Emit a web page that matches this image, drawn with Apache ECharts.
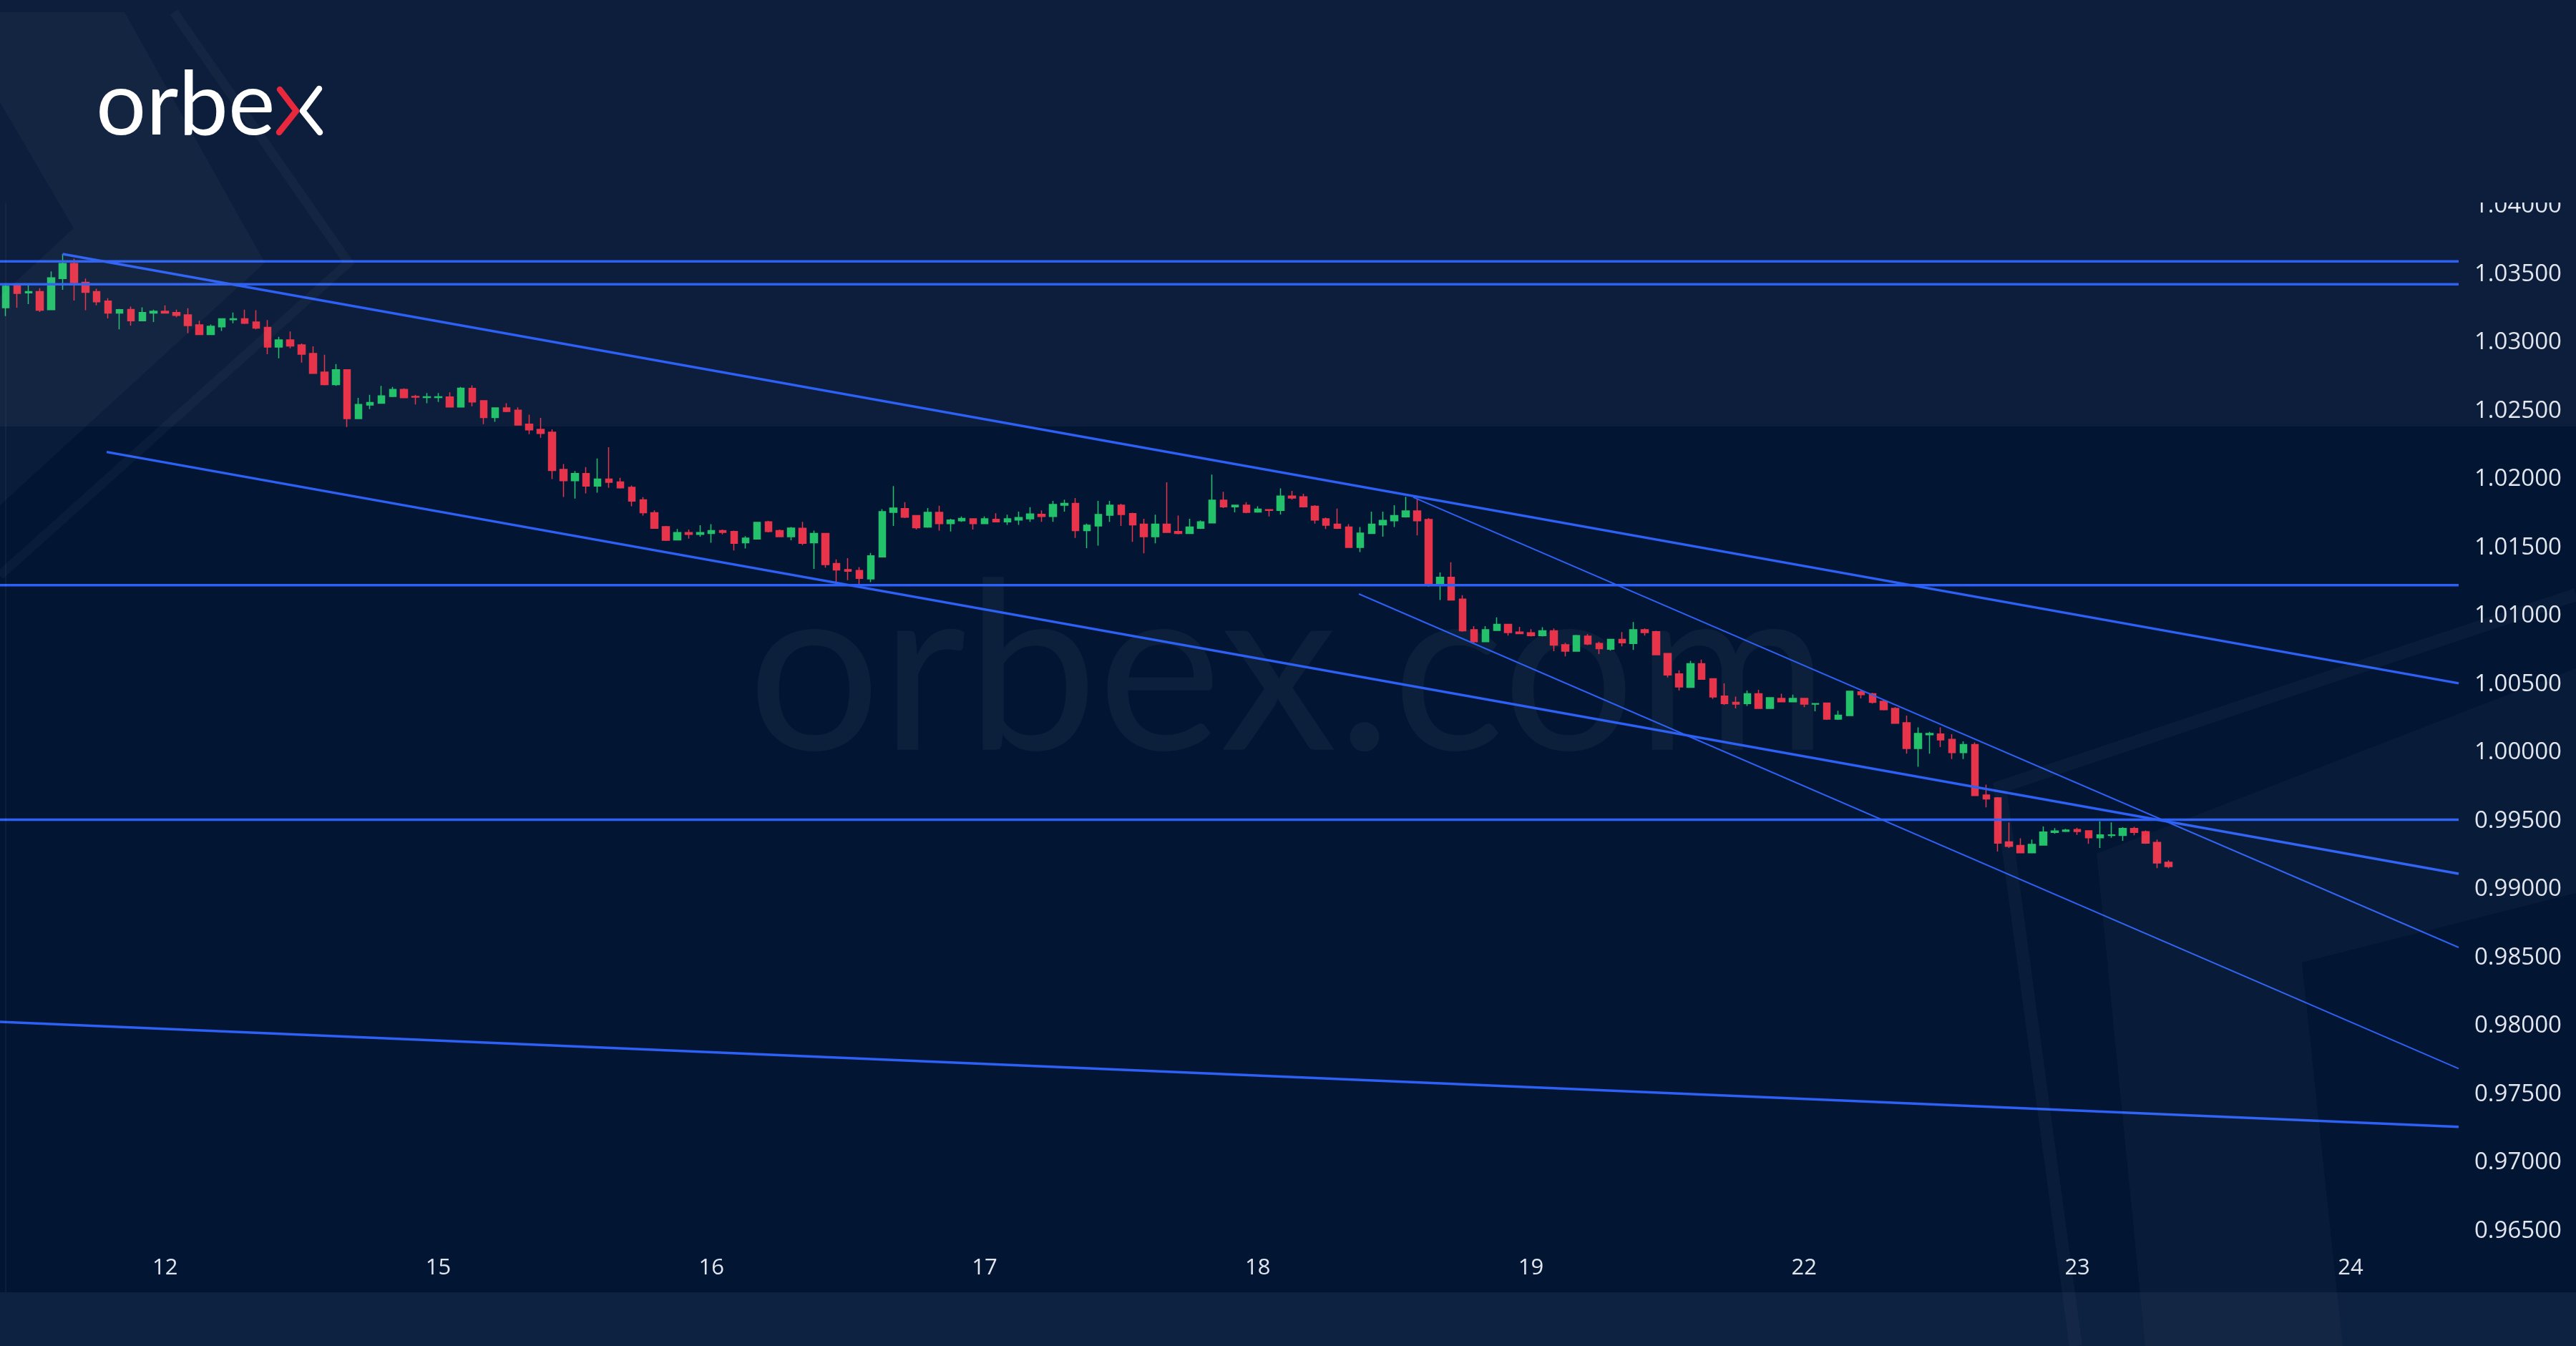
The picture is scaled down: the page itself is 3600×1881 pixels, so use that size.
<!DOCTYPE html>
<html>
<head>
<meta charset="utf-8">
<style>
html,body{margin:0;padding:0;background:#0c1e3b;}
#chart{width:3600px;height:1881px;}
</style>
<script src="https://cdn.jsdelivr.net/npm/echarts@6/dist/echarts.min.js"></script>
</head>
<body>
<div id="chart"></div>
<script>
// ---------- DATA ----------
const SLOT_COUNT = 216; // hourly slots visible on the time axis
const dayLabels = ['12','15','16','17','18','19','22','23','24'];
const dayLabelSlot = [14,38,62,86,110,134,158,182,206];

const opens = [1.03257,1.03417,1.03365,1.03375,1.03243,1.03470,1.03580,1.03443,1.03375,1.03305,
1.03218,1.03244,1.03161,1.03218,1.03230,1.03222,1.03204,1.03131,1.03061,1.03117,
1.03169,1.03175,1.03152,1.03113,1.02969,1.03021,1.02984,1.02921,1.02785,1.02694,
1.02803,1.02445,1.02544,1.02558,1.02607,1.02658,1.02607,1.02600,1.02600,1.02604,
1.02530,1.02666,1.02576,1.02453,1.02523,1.02506,1.02405,1.02366,1.02345,1.02073,
1.01991,1.02043,1.01951,1.02003,1.01982,1.01942,1.01851,1.01756,1.01654,1.01558,
1.01611,1.01598,1.01604,1.01625,1.01619,1.01536,1.01564,1.01689,1.01626,1.01581,
1.01642,1.01536,1.01604,1.01385,1.01340,1.01333,1.01272,1.01433,1.01759,1.01787,
1.01735,1.01651,1.01759,1.01677,1.01698,1.01712,1.01677,1.01708,1.01689,1.01703,
1.01712,1.01745,1.01729,1.01811,1.01825,1.01625,1.01660,1.01738,1.01811,1.01750,
1.01672,1.01581,1.01672,1.01619,1.01604,1.01642,1.01682,1.01848,1.01799,1.01811,
1.01761,1.01778,1.01773,1.01878,1.01873,1.01804,1.01712,1.01672,1.01651,1.01502,
1.01604,1.01668,1.01698,1.01726,1.01770,1.01707,1.01232,1.01284,1.01124,1.00900,
1.00813,1.00895,1.00939,1.00883,1.00878,1.00857,1.00892,1.00790,1.00743,1.00853,
1.00799,1.00757,1.00830,1.00799,1.00900,1.00886,1.00726,1.00577,1.00478,1.00652,
1.00542,1.00415,1.00368,1.00359,1.00432,1.00324,1.00398,1.00373,1.00398,1.00356,
1.00363,1.00246,1.00272,1.00446,1.00432,1.00377,1.00324,1.00219,1.00031,1.00132,
1.00137,1.00097,1.00001,1.00059,0.99691,0.99670,0.99347,0.99321,0.99268,0.99324,
0.99417,0.99425,0.99438,0.99429,0.99378,0.99394,0.99394,0.99446,0.99422,0.99343,
0.99198];
const highs = [1.03422,1.03431,1.03422,1.03400,1.03522,1.03649,1.03615,1.03470,1.03396,1.03326,
1.03248,1.03265,1.03260,1.03243,1.03274,1.03243,1.03253,1.03161,1.03134,1.03178,
1.03222,1.03243,1.03239,1.03166,1.03044,1.03082,1.02995,1.02974,1.02913,1.02845,
1.02806,1.02597,1.02619,1.02684,1.02677,1.02666,1.02619,1.02632,1.02632,1.02637,
1.02677,1.02689,1.02576,1.02527,1.02558,1.02527,1.02474,1.02450,1.02366,1.02113,
1.02061,1.02090,1.02153,1.02235,1.02012,1.01956,1.01870,1.01773,1.01660,1.01637,
1.01633,1.01665,1.01672,1.01633,1.01625,1.01585,1.01689,1.01698,1.01633,1.01651,
1.01689,1.01625,1.01607,1.01415,1.01424,1.01358,1.01462,1.01782,1.01951,1.01834,
1.01738,1.01790,1.01808,1.01712,1.01729,1.01712,1.01729,1.01752,1.01742,1.01764,
1.01797,1.01773,1.01843,1.01852,1.01864,1.01677,1.01843,1.01843,1.01822,1.01756,
1.01712,1.01742,1.01979,1.01735,1.01712,1.01700,1.02035,1.01909,1.01811,1.01834,
1.01804,1.01782,1.01934,1.01916,1.01895,1.01811,1.01721,1.01787,1.01672,1.01651,
1.01764,1.01764,1.01811,1.01873,1.01860,1.01717,1.01319,1.01394,1.01153,1.00926,
1.00926,1.00991,1.00944,1.00921,1.00904,1.00918,1.00909,1.00804,1.00862,1.00869,
1.00813,1.00834,1.00883,1.00956,1.00909,1.00892,1.00726,1.00603,1.00673,1.00682,
1.00546,1.00507,1.00411,1.00455,1.00460,1.00403,1.00432,1.00425,1.00398,1.00363,
1.00363,1.00307,1.00452,1.00460,1.00438,1.00391,1.00333,1.00272,1.00185,1.00153,
1.00185,1.00136,1.00083,1.00076,0.99766,0.99675,0.99490,0.99373,0.99364,0.99460,
0.99448,0.99443,0.99451,0.99429,0.99499,0.99490,0.99455,0.99458,0.99431,0.99364,
0.99212];
const lows = [1.03195,1.03257,1.03283,1.03225,1.03239,1.03388,1.03309,1.03239,1.03274,1.03178,
1.03099,1.03126,1.03158,1.03152,1.03213,1.03187,1.03070,1.03056,1.03058,1.03086,
1.03143,1.03138,1.03099,1.02916,1.02886,1.02960,1.02855,1.02776,1.02689,1.02684,
1.02384,1.02441,1.02515,1.02558,1.02602,1.02597,1.02549,1.02558,1.02567,1.02527,
1.02527,1.02536,1.02405,1.02422,1.02492,1.02394,1.02331,1.02305,1.02003,1.01872,
1.01860,1.01898,1.01903,1.01938,1.01933,1.01804,1.01735,1.01642,1.01550,1.01555,
1.01567,1.01581,1.01537,1.01598,1.01480,1.01494,1.01564,1.01612,1.01581,1.01555,
1.01520,1.01345,1.01354,1.01249,1.01263,1.01232,1.01249,1.01433,1.01660,1.01717,
1.01633,1.01647,1.01625,1.01619,1.01689,1.01633,1.01672,1.01686,1.01668,1.01668,
1.01689,1.01689,1.01689,1.01764,1.01572,1.01497,1.01516,1.01689,1.01660,1.01543,
1.01459,1.01532,1.01612,1.01598,1.01602,1.01637,1.01682,1.01790,1.01759,1.01752,
1.01756,1.01729,1.01743,1.01852,1.01794,1.01677,1.01637,1.01637,1.01499,1.01468,
1.01604,1.01581,1.01651,1.01721,1.01590,1.01214,1.01118,1.01118,1.00886,1.00804,
1.00813,1.00892,1.00857,1.00869,1.00851,1.00851,1.00743,1.00705,1.00740,1.00787,
1.00722,1.00747,1.00778,1.00752,1.00857,1.00717,1.00551,1.00455,1.00478,1.00534,
1.00394,1.00350,1.00324,1.00342,1.00321,1.00321,1.00368,1.00368,1.00333,1.00303,
1.00240,1.00240,1.00272,1.00398,1.00359,1.00310,1.00211,0.99993,0.99897,0.99993,
1.00041,0.99954,0.99954,0.99687,0.99600,0.99277,0.99303,0.99263,0.99268,0.99324,
0.99408,0.99420,0.99399,0.99333,0.99303,0.99378,0.99355,0.99396,0.99333,0.99155,
0.99155];
const closes = [1.03414,1.03361,1.03375,1.03239,1.03475,1.03580,1.03440,1.03370,1.03300,1.03218,
1.03243,1.03161,1.03222,1.03230,1.03218,1.03201,1.03126,1.03061,1.03120,1.03175,
1.03175,1.03143,1.03108,1.02969,1.03021,1.02977,1.02916,1.02776,1.02694,1.02803,
1.02445,1.02549,1.02563,1.02611,1.02658,1.02598,1.02602,1.02605,1.02605,1.02530,
1.02668,1.02567,1.02453,1.02523,1.02497,1.02398,1.02363,1.02336,1.02066,1.01991,
1.02043,1.01951,1.02003,1.01979,1.01938,1.01842,1.01756,1.01642,1.01555,1.01611,
1.01598,1.01611,1.01625,1.01612,1.01532,1.01571,1.01686,1.01619,1.01581,1.01644,
1.01532,1.01605,1.01377,1.01337,1.01328,1.01276,1.01441,1.01764,1.01790,1.01724,
1.01647,1.01759,1.01677,1.01703,1.01715,1.01677,1.01712,1.01689,1.01712,1.01721,
1.01747,1.01729,1.01817,1.01825,1.01625,1.01665,1.01743,1.01811,1.01743,1.01668,
1.01581,1.01672,1.01612,1.01604,1.01651,1.01689,1.01848,1.01799,1.01811,1.01759,
1.01782,1.01773,1.01878,1.01864,1.01799,1.01703,1.01665,1.01642,1.01502,1.01607,
1.01672,1.01700,1.01735,1.01770,1.01698,1.01223,1.01284,1.01118,1.00892,1.00813,
1.00900,1.00939,1.00879,1.00872,1.00857,1.00892,1.00787,1.00743,1.00857,1.00796,
1.00761,1.00830,1.00804,1.00900,1.00879,1.00717,1.00569,1.00481,1.00652,1.00537,
1.00408,1.00359,1.00356,1.00432,1.00324,1.00403,1.00373,1.00398,1.00356,1.00359,
1.00246,1.00275,1.00450,1.00425,1.00368,1.00315,1.00216,1.00031,1.00141,1.00141,
1.00094,1.00001,1.00059,0.99687,0.99661,0.99338,0.99315,0.99268,0.99329,0.99420,
0.99427,0.99434,0.99424,0.99378,0.99399,0.99399,0.99446,0.99417,0.99338,0.99193,
0.99167];

// horizontal levels and trend lines ([slot, price] end points)
const hLevels = [1.03596, 1.03428, 1.01226, 0.99510];
const trendMain = [
  [[5, 1.0365], [215.5, 1.00508]],
  [[8.87, 1.02201], [215.5, 0.99114]],
  [[-0.5, 0.98030], [215.5, 0.97262]]
];
const trendThin = [
  [[123.66, 1.0187], [215.5, 0.98575]],
  [[118.88, 1.01162], [215.5, 0.97688]]
];

// ---------- CHART ----------
const UP = '#24c16b', DOWN = '#e8344a', LINE = '#2d60f5';
const BG_TOP = '#0c1e3b', BG_CHART = '#021634';

const categories = [];
for (let i = 0; i < SLOT_COUNT; i++) categories.push('');
dayLabels.forEach((d, k) => { categories[dayLabelSlot[k]] = d; });

const candleData = opens.map((o, i) => [o, closes[i], lows[i], highs[i]]);

const lineSeries = [];
function addLine(data, width) {
  lineSeries.push({
    type: 'line', xAxisIndex: 1, yAxisIndex: 0, data: data,
    symbol: 'none', silent: true, z: 4, lineStyle: {color: LINE, width: width}, animation: false
  });
}
hLevels.forEach(v => addLine([[-0.5, v], [215.5, v]], 3.5));
trendMain.forEach(seg => addLine(seg, 3.5));
trendThin.forEach(seg => addLine(seg, 2));

const deco = 'rgba(255,255,255,0.03)';
const chart = echarts.init(document.getElementById('chart'), null, {renderer: 'canvas'});
chart.setOption({
  backgroundColor: BG_TOP,
  animation: false,
  grid: {left: 0, width: 3436, top: 192.6, height: 1623.1, containLabel: false},
  xAxis: [{
    type: 'category', data: categories, boundaryGap: true, position: 'bottom', offset: -59, z: 5,
    axisLine: {show: false, onZero: false}, axisTick: {show: false}, splitLine: {show: false},
    axisLabel: {interval: 0, margin: 0, color: '#e2e6ee', fontSize: 31, fontFamily: 'Open Sans', verticalAlign: 'top', hideOverlap: false}
  }, {
    type: 'value', min: -0.5, max: 215.5, show: false
  }],
  yAxis: [{
    type: 'value', position: 'right', min: 0.96, max: 1.045, interval: 0.005, z: 5,
    axisLine: {show: true, lineStyle: {color: 'rgba(255,255,255,0.04)', width: 2}},
    axisTick: {show: false}, splitLine: {show: false},
    axisLabel: {
      margin: 22, align: 'left', color: '#e2e6ee', fontSize: 33, fontFamily: 'Open Sans',
      formatter: v => (v < 0.9625 || v > 1.0425) ? '' : v.toFixed(5)
    }
  }],
  graphic: [
    {type: 'rect', z: -1, silent: true, shape: {x: 0, y: 596, width: 3600, height: 1210}, style: {fill: BG_CHART}},
    {type: 'text', z: 1, silent: true, x: 1800, y: 942,
      style: {text: 'orbex.com', fill: 'rgba(255,255,255,0.042)', font: '400 328px Lato', align: 'center', verticalAlign: 'middle'}},
    {type: 'rect', z: 50, silent: true, shape: {x: 0, y: 0, width: 3600, height: 283}, style: {fill: BG_TOP}},
    {type: 'rect', z: 50, silent: true, shape: {x: 0, y: 1806, width: 3600, height: 75}, style: {fill: '#0d2140'}},
    // decorative background shapes
    {type: 'polygon', z: 60, silent: true, shape: {points: [[0,17],[174,17],[370,367],[0,706],[0,414],[103,319],[0,143]]}, style: {fill: deco}},
    {type: 'polyline', z: 60, silent: true, shape: {points: [[243,17],[487,367],[0,804]]}, style: {stroke: deco, lineWidth: 13, fill: null}},
    {type: 'polyline', z: 60, silent: true, shape: {points: [[3600,831],[2795,1100],[2901,1881]]}, style: {stroke: deco, lineWidth: 18, fill: null}},
    {type: 'polygon', z: 60, silent: true, shape: {points: [[2930,1193],[3600,934],[3600,1248],[3217,1345],[3274,1881],[2998,1881]]}, style: {fill: 'rgba(255,255,255,0.028)'}},
    // logo
    {type: 'text', z: 70, silent: true, x: 134, y: 148,
      style: {text: 'orbe', fill: '#ffffff', font: '400 124px Lato', align: 'left', verticalAlign: 'middle'}},
    {type: 'polyline', z: 70, silent: true, shape: {points: [[391,125],[414,155],[390,185]]}, style: {stroke: '#e8283c', lineWidth: 8.5, lineCap: 'round', lineJoin: 'round', fill: null}},
    {type: 'polyline', z: 70, silent: true, shape: {points: [[446,124],[423,155],[447,185]]}, style: {stroke: '#ffffff', lineWidth: 8.5, lineCap: 'round', lineJoin: 'round', fill: null}}
  ],
  series: [{
    type: 'candlestick', xAxisIndex: 0, yAxisIndex: 0, data: candleData, barWidth: 10, z: 3,
    itemStyle: {color: UP, color0: DOWN, borderColor: UP, borderColor0: DOWN, borderWidth: 1.5}
  }].concat(lineSeries)
});
</script>
</body>
</html>
